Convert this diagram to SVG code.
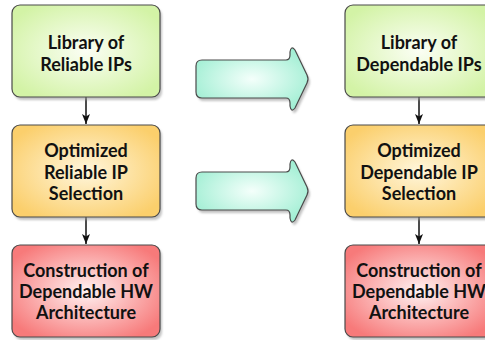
<svg xmlns="http://www.w3.org/2000/svg" width="485" height="340" viewBox="0 0 485 340">
<defs>
<radialGradient id="gG" cx="50%" cy="50%" r="60%"><stop offset="0" stop-color="#fbfef4"/><stop offset="1" stop-color="#d3f3a6"/></radialGradient>
<radialGradient id="gO" cx="50%" cy="50%" r="60%"><stop offset="0" stop-color="#fff6dc"/><stop offset="1" stop-color="#fbcf6c"/></radialGradient>
<radialGradient id="gR" cx="50%" cy="50%" r="60%"><stop offset="0" stop-color="#fff2f2"/><stop offset="1" stop-color="#f77a7a"/></radialGradient>
<radialGradient id="gC" cx="50%" cy="50%" r="60%"><stop offset="0" stop-color="#f4fffb"/><stop offset="1" stop-color="#9eeed2"/></radialGradient>
<filter id="sh" x="-10%" y="-10%" width="130%" height="130%"><feGaussianBlur stdDeviation="1.2"/></filter>
<marker id="ah" markerWidth="10" markerHeight="8" refX="10" refY="4" orient="auto" markerUnits="userSpaceOnUse" viewBox="0 0 10 8"><path d="M0,0 L10,4 L0,8 L2.5,4 Z" fill="#111"/></marker>
<path id="blk" d="M202 60 L286 60 Q290 60 290 55 L290 52 Q291 45 295 50 L307 75 Q309 79 307 83 L295 108 Q291 113 290 106 L290 103 Q290 98 286 98 L202 98 Q196 98 196 92 L196 66 Q196 60 202 60 Z"/>
</defs>
<style>
.box{stroke:#4a4a4a;stroke-width:1.2}
.shd{fill:#9a9a9a;opacity:0.6;filter:url(#sh)}
.t{font-family:Lato,"Open Sans","Liberation Sans",sans-serif;font-weight:bold;font-size:18px;fill:#111;text-anchor:middle}
.con{stroke:#111;stroke-width:1.5;fill:none}
</style>
<g id="connectors">
<line class="con" x1="86" y1="97" x2="86" y2="124" marker-end="url(#ah)"/>
<line class="con" x1="86" y1="217" x2="86" y2="244" marker-end="url(#ah)"/>
<line class="con" x1="419" y1="97" x2="419" y2="124" marker-end="url(#ah)"/>
<line class="con" x1="419" y1="217" x2="419" y2="244" marker-end="url(#ah)"/>
</g>
<g id="arrow1">
<use href="#blk" class="shd" transform="translate(2,3)"/>
<use href="#blk" fill="url(#gC)" stroke="#4a4a4a" stroke-width="1.2"/>
</g>
<g id="arrow2" transform="translate(0,112)">
<use href="#blk" class="shd" transform="translate(2,3)"/>
<use href="#blk" fill="url(#gC)" stroke="#4a4a4a" stroke-width="1.2"/>
</g>
<g id="lib-reliable">
<rect class="shd" x="14" y="8" width="148" height="92" rx="8"/>
<rect class="box" x="12" y="5" width="148" height="92" rx="8" fill="url(#gG)"/>
<text class="t" x="86" y="49">Library of</text>
<text class="t" x="86" y="71">Reliable IPs</text>
</g>
<g id="opt-reliable">
<rect class="shd" x="14" y="128" width="148" height="92" rx="8"/>
<rect class="box" x="12" y="125" width="148" height="92" rx="8" fill="url(#gO)"/>
<text class="t" x="86" y="157">Optimized</text>
<text class="t" x="86" y="179">Reliable IP</text>
<text class="t" x="86" y="200">Selection</text>
</g>
<g id="hw-left">
<rect class="shd" x="14" y="248" width="148" height="92" rx="8"/>
<rect class="box" x="12" y="245" width="148" height="92" rx="8" fill="url(#gR)"/>
<text class="t" x="86" y="277">Construction of</text>
<text class="t" x="86" y="298">Dependable HW</text>
<text class="t" x="86" y="319">Architecture</text>
</g>
<g id="lib-dependable">
<rect class="shd" x="347" y="8" width="148" height="92" rx="8"/>
<rect class="box" x="345" y="5" width="148" height="92" rx="8" fill="url(#gG)"/>
<text class="t" x="419" y="49">Library of</text>
<text class="t" x="419" y="71">Dependable IPs</text>
</g>
<g id="opt-dependable">
<rect class="shd" x="347" y="128" width="148" height="92" rx="8"/>
<rect class="box" x="345" y="125" width="148" height="92" rx="8" fill="url(#gO)"/>
<text class="t" x="419" y="157">Optimized</text>
<text class="t" x="419" y="179">Dependable IP</text>
<text class="t" x="419" y="200">Selection</text>
</g>
<g id="hw-right">
<rect class="shd" x="347" y="248" width="148" height="92" rx="8"/>
<rect class="box" x="345" y="245" width="148" height="92" rx="8" fill="url(#gR)"/>
<text class="t" x="419" y="277">Construction of</text>
<text class="t" x="419" y="298">Dependable HW</text>
<text class="t" x="419" y="319">Architecture</text>
</g>
</svg>
